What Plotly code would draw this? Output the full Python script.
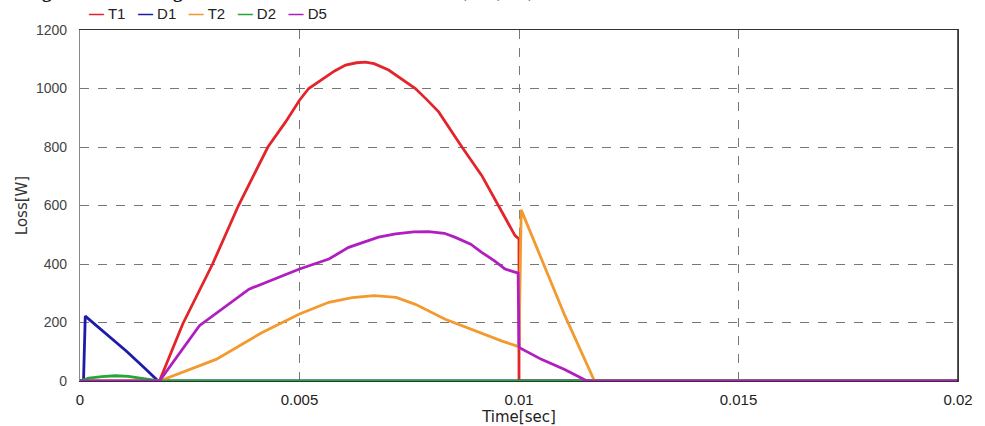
import plotly.graph_objects as go

# ---- data (time in seconds, loss in watts) ----
T1_t = [0, 0.00181, 0.00234, 0.00302, 0.00361, 0.00428, 0.00468, 0.005, 0.00521, 0.00551, 0.0058,
        0.00605, 0.0063, 0.0065, 0.0067, 0.00703, 0.0073, 0.00764, 0.0079, 0.00817, 0.0087,
        0.00915, 0.00953, 0.00991, 0.0100, 0.0100, 0.02]
T1_v = [0, 0, 195, 400, 600, 800, 885, 960, 1000, 1030, 1060,
        1080, 1088, 1090, 1085, 1063, 1035, 1000, 962, 920, 800,
        703, 600, 497, 486, 0, 0]

D1_t = [0, 0.00008, 0.00012, 0.0006, 0.00106, 0.0015, 0.00178, 0.02]
D1_v = [0, 0, 222, 160, 102, 40, 0, 0]

T2_t = [0, 0.00181, 0.0031, 0.00415, 0.005, 0.00567, 0.0062, 0.0067, 0.0072, 0.00764, 0.00832,
        0.00908, 0.0096, 0.00994, 0.0100, 0.01005, 0.01104, 0.01172, 0.02]
T2_v = [0, 0, 74, 166, 229, 269, 285, 292, 286, 262, 211,
        166, 137, 120, 115, 585, 225, 0, 0]

D2_t = [0, 0.0002, 0.0005, 0.0008, 0.0011, 0.0014, 0.0018, 0.02]
D2_v = [0, 10, 15, 18, 16, 10, 0, 0]

D5_t = [0, 0.00181, 0.00272, 0.00385, 0.005, 0.00567, 0.00612, 0.00643, 0.0068, 0.00719, 0.0076,
        0.00794, 0.0083, 0.00855, 0.0089, 0.00915, 0.00945, 0.00968, 0.00998, 0.0100, 0.01051,
        0.01104, 0.01142, 0.01155, 0.02]
D5_v = [0, 0, 189, 314, 383, 417, 457, 474, 492, 503, 510,
        511, 505, 491, 468, 440, 410, 383, 369, 115, 74,
        39, 9, 0, 0]

names = ["T1", "D1", "T2", "D2", "D5"]
colors = ["#e3242b", "#1c1ca8", "#f39a2e", "#22a838", "#b01ec0"]
series = [(T1_t, T1_v), (D1_t, D1_v), (T2_t, T2_v), (D2_t, D2_v), (D5_t, D5_v)]

x_ticks = [0, 0.005, 0.01, 0.015, 0.02]
x_ticktext = ["0", "0.005", "0.01", "0.015", "0.02"]
y_ticks = [0, 200, 400, 600, 800, 1000, 1200]

fig = go.Figure()
for name, col, (t, v) in zip(names, colors, series):
    fig.add_trace(go.Scatter(x=t, y=v, mode="lines", name=name,
                             line=dict(color=col, width=2.8)))

# compact legend drawn as text (coloured dashes + series names)
legend_text = "   ".join(
    f"<span style='color:{c}'><b>—</b></span> {n}" for n, c in zip(names, colors))

fig.update_layout(
    width=985, height=426,
    margin=dict(l=80, r=27, t=30, b=45, autoexpand=False),
    paper_bgcolor="white", plot_bgcolor="white",
    font=dict(family="Liberation Sans, Arial, sans-serif", size=12, color="#333"),
    showlegend=False,
    xaxis=dict(range=[0, 0.02], tickvals=x_ticks, ticktext=x_ticktext, automargin=False,
               showgrid=True, gridcolor="#777", griddash="dash", gridwidth=1,
               zeroline=False, showline=True, linecolor="#333", linewidth=1.2, mirror=True,
               ticks="", ticklabelstandoff=5,
               tickfont=dict(size=15, color="#222"),
               title=dict(text="Time[sec]", font=dict(family="DejaVu Sans, sans-serif", size=15, color="#222"),
                          standoff=0)),
    yaxis=dict(range=[0, 1200], tickvals=y_ticks, automargin=False,
               showgrid=True, gridcolor="#777", griddash="dash", gridwidth=1,
               zeroline=False, showline=True, linecolor="#888", linewidth=1.2, mirror=True,
               ticks="", ticklabelstandoff=9,
               tickfont=dict(size=14, color="#444"),
               title=dict(text="Loss[W]", font=dict(family="DejaVu Sans, sans-serif", size=15, color="#333"),
                          standoff=4)),
    shapes=[dict(type="line", xref="paper", yref="paper", x0=1, x1=1, y0=0, y1=1,
                 line=dict(color="#222", width=1.5))],
    annotations=[
        dict(text="<b>Figure 6. Switching element instantaneous losses of T1, D1, T2, D2 and D5 of the inverter</b>",
             xref="paper", yref="paper", x=-0.065, y=1.0, xanchor="left", yanchor="bottom",
             yshift=26, showarrow=False,
             font=dict(family="Liberation Serif, Times New Roman, serif", size=19, color="#111")),
        dict(text=legend_text, xref="paper", yref="paper", x=0.008, y=1.0,
             xanchor="left", yanchor="middle", yshift=17, showarrow=False,
             font=dict(family="Liberation Sans, Arial, sans-serif", size=15, color="#222")),
    ],
)

fig.write_html("out.html", config={"displayModeBar": False},
               post_script="document.body.style.margin='0';")
